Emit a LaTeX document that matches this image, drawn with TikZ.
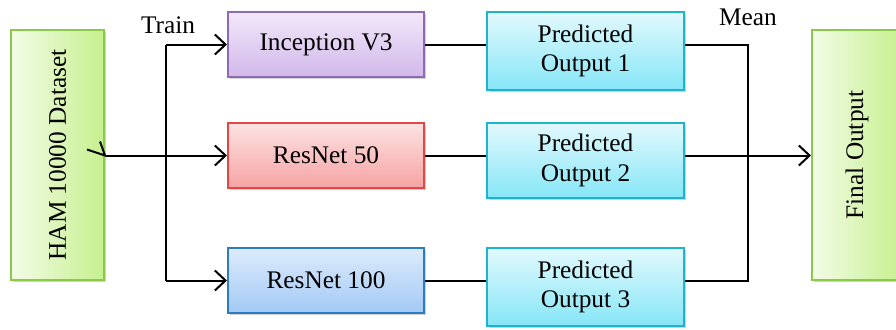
\documentclass[tikz,border=0pt]{standalone}
\usepackage{fontspec}
\setmainfont{Liberation Serif}
\usetikzlibrary{shadows,arrows.meta}
\definecolor{pTop}{HTML}{F2E8FA}\definecolor{pBot}{HTML}{D2B8EA}\definecolor{pBd}{HTML}{8E6BB0}
\definecolor{rTop}{HTML}{FDE2E2}\definecolor{rBot}{HTML}{F6A3A3}\definecolor{rBd}{HTML}{E04848}
\definecolor{bTop}{HTML}{DCEBFC}\definecolor{bBot}{HTML}{A3C9F5}\definecolor{bBd}{HTML}{2E7CC0}
\definecolor{cTop}{HTML}{E2F9FD}\definecolor{cBot}{HTML}{86E6F7}\definecolor{cBd}{HTML}{1EB4CC}
\definecolor{gL}{HTML}{F2FCE6}\definecolor{gR}{HTML}{C6F08E}\definecolor{gBd}{HTML}{8CC84B}
\tikzset{
  box/.style={draw, line width=1.5pt, inner sep=0pt, align=center,
    font=\fontsize{19}{22}\selectfont,
    drop shadow={shadow xshift=1.8pt, shadow yshift=-1.8pt, fill=black!45, opacity=0.4}},
  model/.style={box, minimum width=147pt, minimum height=48.75pt},
  pred/.style={box, top color=cTop, bottom color=cBot, draw=cBd, minimum width=147.75pt},
  tall/.style={box, left color=gL, right color=gR, draw=gBd, minimum height=187.5pt},
  conn/.style={line width=1.5pt, black},
  arr/.style={conn, -{Straight Barb[length=8pt, width=15pt, line width=1.5pt]}},
  lbl/.style={font=\fontsize{19}{22}\selectfont, inner sep=0pt}
}
\begin{document}
\begin{tikzpicture}[x=0.75pt, y=-0.75pt]
\useasboundingbox (0,0) rectangle (896,329);
\clip (0,0) rectangle (896,329);
\fill[white] (0,0) rectangle (896,329);

\node[tall, minimum width=69.75pt] (ham) at (57.5,155) {};
\node[rotate=90, lbl] at (ham.center) {HAM 10000 Dataset};
\node[tall, minimum width=67.5pt] (fin) at (857,155) {};
\node[rotate=90, lbl] at (fin.center) {Final Output};

\node[model, top color=pTop, bottom color=pBot, draw=pBd] (inc) at (326,44.5) {Inception V3};
\node[model, top color=rTop, bottom color=rBot, draw=rBd] (r50) at (326,155.5) {ResNet 50};
\node[model, top color=bTop, bottom color=bBot, draw=bBd] (r100) at (326,280.5) {ResNet 100};

\node[pred, minimum height=58.5pt] (p1) at (585.5,51) {Predicted\\Output 1};
\node[pred, minimum height=56.25pt] (p2) at (585.5,160.5) {Predicted\\Output 2};
\node[pred, minimum height=58.5pt] (p3) at (585.5,287) {Predicted\\Output 3};

\node[lbl] (train) at (168,25) {Train};
\node[lbl] (mean) at (748,17) {Mean};

\coordinate (st) at (166,44.5);
\coordinate (sb) at (166,280.5);
\coordinate (mt) at (748,44.5);
\coordinate (mb) at (748,280.5);

% input side
\draw[conn] (ham.east |- r50.west) -- ++(-18,-6);
\draw[conn] (ham.east |- r50.west) -- ++(-5,-14);
\draw[arr] (ham.east |- r50.west) -- (r50.west);
\draw[conn] (st) -- (sb);
\draw[arr] (st) -- (inc.west);
\draw[arr] (sb) -- (r100.west);

% model to predictions
\draw[conn] (inc.east) -- (inc.east -| p1.west);
\draw[conn] (r50.east) -- (r50.east -| p2.west);
\draw[conn] (r100.east) -- (r100.east -| p3.west);

% mean
\draw[conn] (p1.east |- mt) -- (mt) -- (mb) -- (p3.east |- mb);
\draw[arr] (p2.east |- r50.east) -- (fin.west |- r50.east);
\end{tikzpicture}
\end{document}
